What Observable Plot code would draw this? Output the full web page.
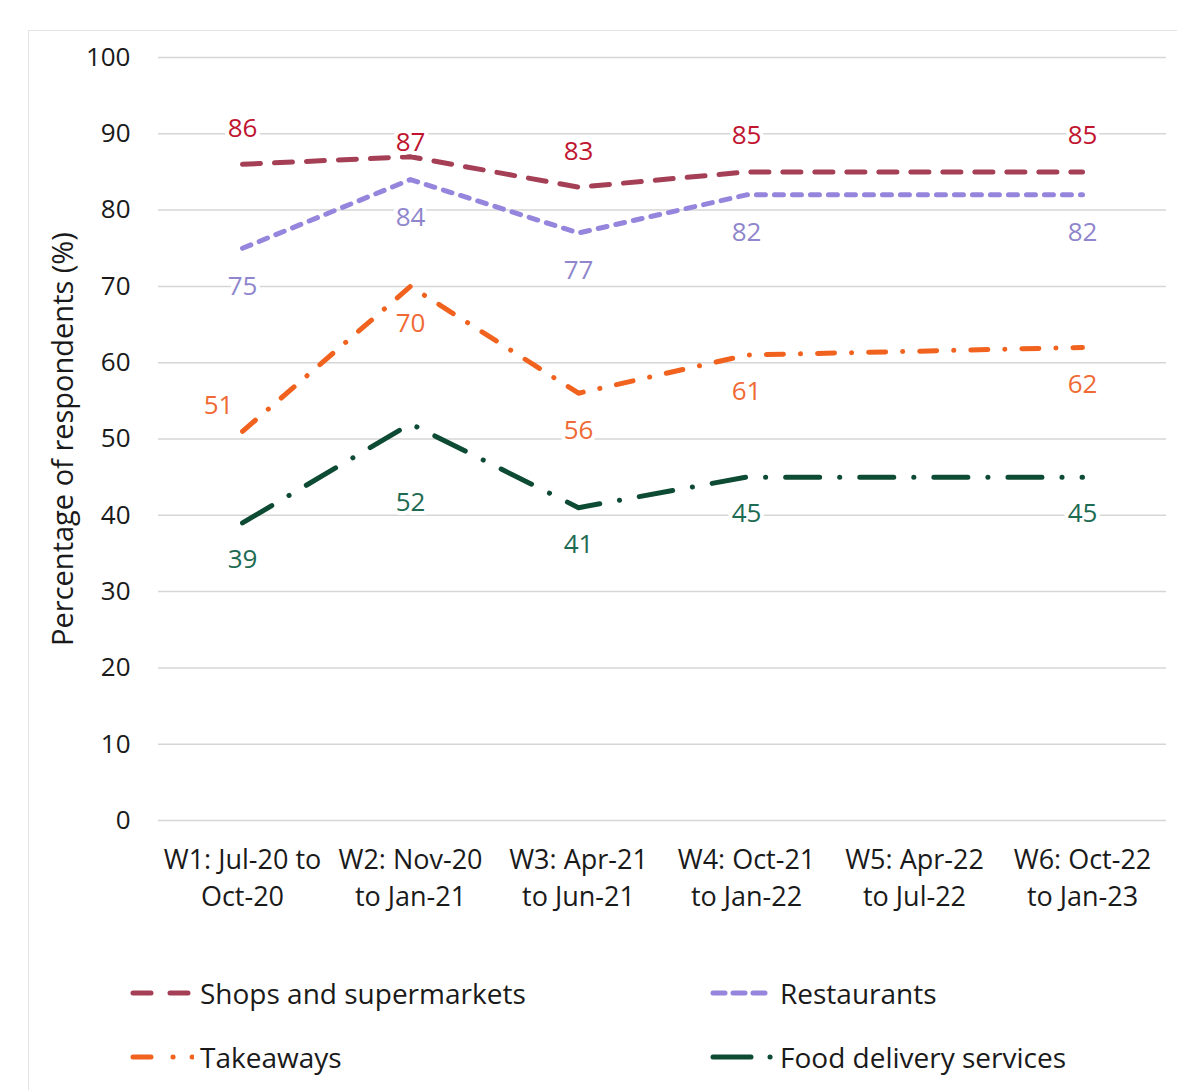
<!DOCTYPE html>
<html>
<head>
<meta charset="utf-8">
<script src="https://cdn.jsdelivr.net/npm/d3@7"></script>
<script src="https://cdn.jsdelivr.net/npm/@observablehq/plot@0.6"></script>
<style>
  html, body { margin: 0; padding: 0; background: #fff; }
  body { width: 1177px; height: 1090px; position: relative; overflow: hidden; font-family: "Open Sans", "Noto Sans", sans-serif; }
  #frame { position: absolute; left: 28px; top: 30px; right: -4px; bottom: -4px; border: 1.5px solid #e3e3e3; }
  #chart { position: absolute; left: 0; top: 0; }
  .legend-item { position: absolute; display: flex; align-items: center; font-size: 28px; color: #1a1a1a; white-space: nowrap; }
  .legend-item svg { margin-right: 6px; }
</style>
</head>
<body>
<div id="frame"></div>
<div id="chart"></div>
<div id="legend"></div>
<script>
// Survey waves (x categories)
const waves = [
  "W1: Jul-20 to\nOct-20",
  "W2: Nov-20\nto Jan-21",
  "W3: Apr-21\nto Jun-21",
  "W4: Oct-21\nto Jan-22",
  "W5: Apr-22\nto Jul-22",
  "W6: Oct-22\nto Jan-23"
];

// Percentage of respondents per wave (W5 not reported)
const shops       = [86, 87, 83, 85, null, 85];
const restaurants = [75, 84, 77, 82, null, 82];
const takeaways   = [51, 70, 56, 61, null, 62];
const delivery    = [39, 52, 41, 45, null, 45];

const yTicks = [0, 10, 20, 30, 40, 50, 60, 70, 80, 90, 100];

// Series appearance: line dash pattern, legend swatch pattern, default label offset
const series = [
  {name: "Shops and supermarkets", values: shops,       line: "#a53f55", text: "#c0142f", dash: "18 14",        key: "18 19",                dy: -36},
  {name: "Restaurants",            values: restaurants, line: "#9585dc", text: "#8f86cc", dash: "9 9",          key: "12 8",                 dy: 38},
  {name: "Takeaways",              values: takeaways,   line: "#f0621e", text: "#ef6a35", dash: "17 17 0.1 17", key: "18 22 0.1 19 0.1 100", dy: 37},
  {name: "Food delivery services", values: delivery,    line: "#0e4b35", text: "#1d6b52", dash: "34 20 0.1 20", key: "38 19 0.1 100",        dy: 37}
];

// Individual label nudges where the default spot collides with a line
const labelNudge = {
  "Shops and supermarkets|1": {dx: 0, dy: -14},
  "Takeaways|0": {dx: -24, dy: -26},
  "Food delivery services|1": {dx: 0, dy: 79}
};

const rows = series.flatMap(s =>
  s.values.map((v, i) => ({series: s.name, wave: waves[i], i, value: v}))
).filter(d => d.value != null);

// Group labels by their pixel offset so each group is one text mark
const labelGroups = d3.groups(
  rows.map(d => {
    const s = series.find(t => t.name === d.series);
    const n = labelNudge[d.series + "|" + d.i] || {dx: 0, dy: s.dy};
    return {...d, color: s.text, dx: n.dx, dy: n.dy};
  }),
  d => d.dx + "," + d.dy
);

const font = "\"Open Sans\", \"Noto Sans\", sans-serif";

const plot = Plot.plot({
  width: 1177,
  height: 940,
  marginTop: 57,
  marginBottom: 120,
  marginLeft: 158,
  marginRight: 11,
  style: {fontFamily: font, fontSize: "26px", color: "#1a1a1a", background: "transparent", overflow: "visible"},
  x: {type: "point", domain: waves, padding: 0.5},
  y: {domain: [0, 100]},
  marks: [
    Plot.ruleY(yTicks, {stroke: "#d6d6d6", strokeWidth: 1.5}),
    Plot.axisY(yTicks, {tickSize: 0, tickPadding: 28, label: null, fontSize: 26}),
    Plot.text(["Percentage of respondents (%)"], {
      frameAnchor: "left", dx: -95, rotate: -90, textAnchor: "middle", fontSize: 29, fill: "#1a1a1a"
    }),
    Plot.axisX({tickSize: 0, tickPadding: 22, lineHeight: 1.38, label: null, fontSize: 27}),
    ...series.map(s => Plot.line(rows.filter(d => d.series === s.name), {
      x: "wave", y: "value", stroke: s.line, strokeWidth: 5,
      strokeDasharray: s.dash, strokeLinecap: "round", strokeLinejoin: "round"
    })),
    ...labelGroups.map(([key, g]) => Plot.text(g, {
      x: "wave", y: "value", text: d => String(d.value), fill: d => d.color,
      dx: g[0].dx, dy: g[0].dy, fontSize: 26,
      stroke: "white", strokeWidth: 8, paintOrder: "stroke"
    }))
  ]
});
document.getElementById("chart").appendChild(plot);

// Legend below the chart
const legendPos = [
  {left: 130, top: 993},
  {left: 710, top: 993},
  {left: 130, top: 1057},
  {left: 710, top: 1057}
];
const legend = d3.select("#legend");
series.forEach((s, k) => {
  const item = legend.append("div").attr("class", "legend-item")
    .style("left", legendPos[k].left + "px")
    .style("top", (legendPos[k].top - 20) + "px")
    .style("height", "40px");
  const sw = item.append("svg").attr("width", 64).attr("height", 20);
  sw.append("line").attr("x1", 3).attr("x2", 63).attr("y1", 10).attr("y2", 10)
    .attr("stroke", s.line).attr("stroke-width", 5)
    .attr("stroke-linecap", "round").attr("stroke-dasharray", s.key);
  item.append("span").text(s.name);
});
</script>
</body>
</html>
